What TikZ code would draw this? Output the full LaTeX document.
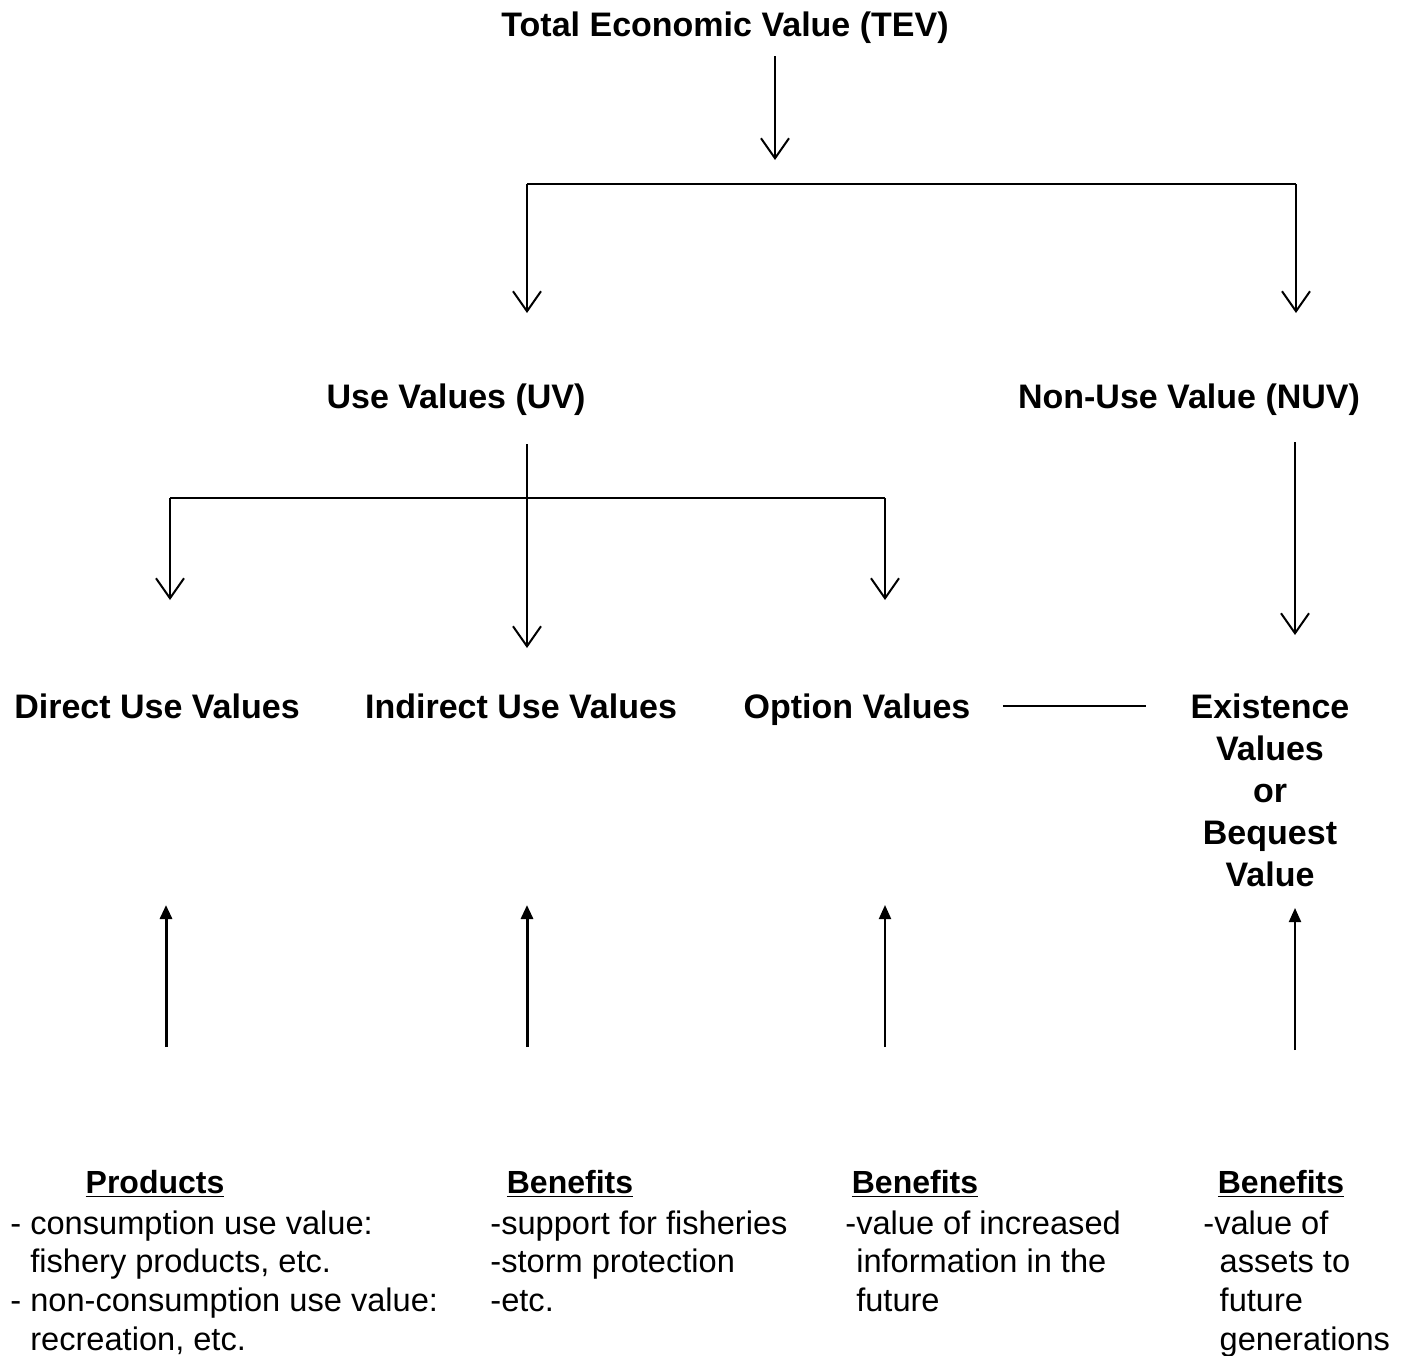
\documentclass[tikz,border=0pt]{standalone}
\usepackage{fontspec}
\setmainfont{Liberation Sans}
\usetikzlibrary{arrows.meta,positioning,calc}

\begin{document}
\begin{tikzpicture}[x=0.5pt,y=-0.5pt]
        \tikzstyle{head}=[inner sep=0pt, align=center, font=\fontsize{17}{21}\selectfont\bfseries]
        \tikzstyle{sub}=[inner sep=0pt, font=\fontsize{16}{19}\selectfont\bfseries]
        \tikzstyle{body}=[inner sep=0pt, anchor=north west, align=left, font=\fontsize{16.3}{19.4}\selectfont]
        \tikzstyle{down}=[line width=1pt, -{Straight Barb[length=10pt,width=14pt]}]
        \tikzstyle{up}=[line width=1pt, -{Triangle[length=7pt,width=6pt]}]
        \tikzstyle{bus}=[line width=0.8pt]

        \useasboundingbox (0,0) rectangle (1408,1355);

        % Value headings
        \node[head] (tev) at (725,28) {Total Economic Value (TEV)};
        \node[head] (uv) at (456,400) {Use Values (UV)};
        \node[head] (nuv) at (1189,400) {Non-Use Value (NUV)};
        \node[head, anchor=base] (direct) at (157,718) {Direct Use Values};
        \node[head, anchor=base] (indirect) at (521,718) {Indirect Use Values};
        \node[head, anchor=base] (option) at (857,718) {Option Values};
        \node[head] (exist) at (1270,790) {Existence\\Values\\or\\Bequest\\Value};

        % Branch points
        \coordinate (tevend) at (775,160);
        \coordinate (busL) at (527,184);
        \coordinate (busR) at (1296,184);
        \coordinate (uvin) at (527,313);
        \coordinate (nuvin) at (1296,313);
        \coordinate (uvbusL) at (170,498);
        \coordinate (uvbusR) at (885,498);
        \coordinate (dirin) at (170,600);
        \coordinate (indin) at (527,648);
        \coordinate (optin) at (885,600);
        \coordinate (exin) at (1295,635);

        % Tree of values
        \draw[down, shorten <=6pt] (tev.south -| tevend) -- (tevend);
        \draw[bus] (busL) -- (busR);
        \draw[down] (busL) -- (uvin);
        \draw[down] (busR) -- (nuvin);
        \draw[bus] (uvbusL) -- (uvbusR);
        \draw[down] (uvbusL) -- (dirin);
        \draw[down] (uvbusR) -- (optin);
        \draw[down, shorten <=14pt] (uv.south -| indin) -- (indin);
        \draw[down, shorten <=13pt] (nuv.south -| exin) -- (exin);
        \draw[bus, shorten <=16pt, shorten >=22pt] (option.east |- direct.east) -- (direct.east -| exist.west);

        % Goods and benefits
        \node[sub] (prod) at (155,1184) {\underline{Products}};
        \node[sub] (benI) at (570,1184) {\underline{Benefits}};
        \node[sub] (benO) at (915,1184) {\underline{Benefits}};
        \node[sub] (benE) at (1281,1184) {\underline{Benefits}};
        \node[body] (prodtxt) at (10,1210) {-~consumption use value:\\\phantom{-~}fishery products, etc.\\-~non-consumption use value:\\\phantom{-~}recreation, etc.};
        \node[body] (benItxt) at (490,1210) {-support for fisheries\\-storm protection\\-etc.};
        \node[body] (benOtxt) at (845,1210) {-value of increased\\\phantom{-}information in the\\\phantom{-}future};
        \node[body] (benEtxt) at (1203,1210) {-value of\\\phantom{-\,}assets to\\\phantom{-\,}future\\\phantom{-\,}generations};

        % Arrows up from the benefits
        \coordinate (upD) at (166,1047);
        \coordinate (upI) at (527,1047);
        \coordinate (upO) at (885,1047);
        \coordinate (upE) at (1295,1050);
        \draw[up, line width=1.5pt] (upD) -- (upD |- 0,905);
        \draw[up, line width=1.5pt] (upI) -- (upI |- 0,905);
        \draw[up] (upO) -- (upO |- 0,905);
        \draw[up] (upE) -- (upE |- 0,908);
\end{tikzpicture}
\end{document}
